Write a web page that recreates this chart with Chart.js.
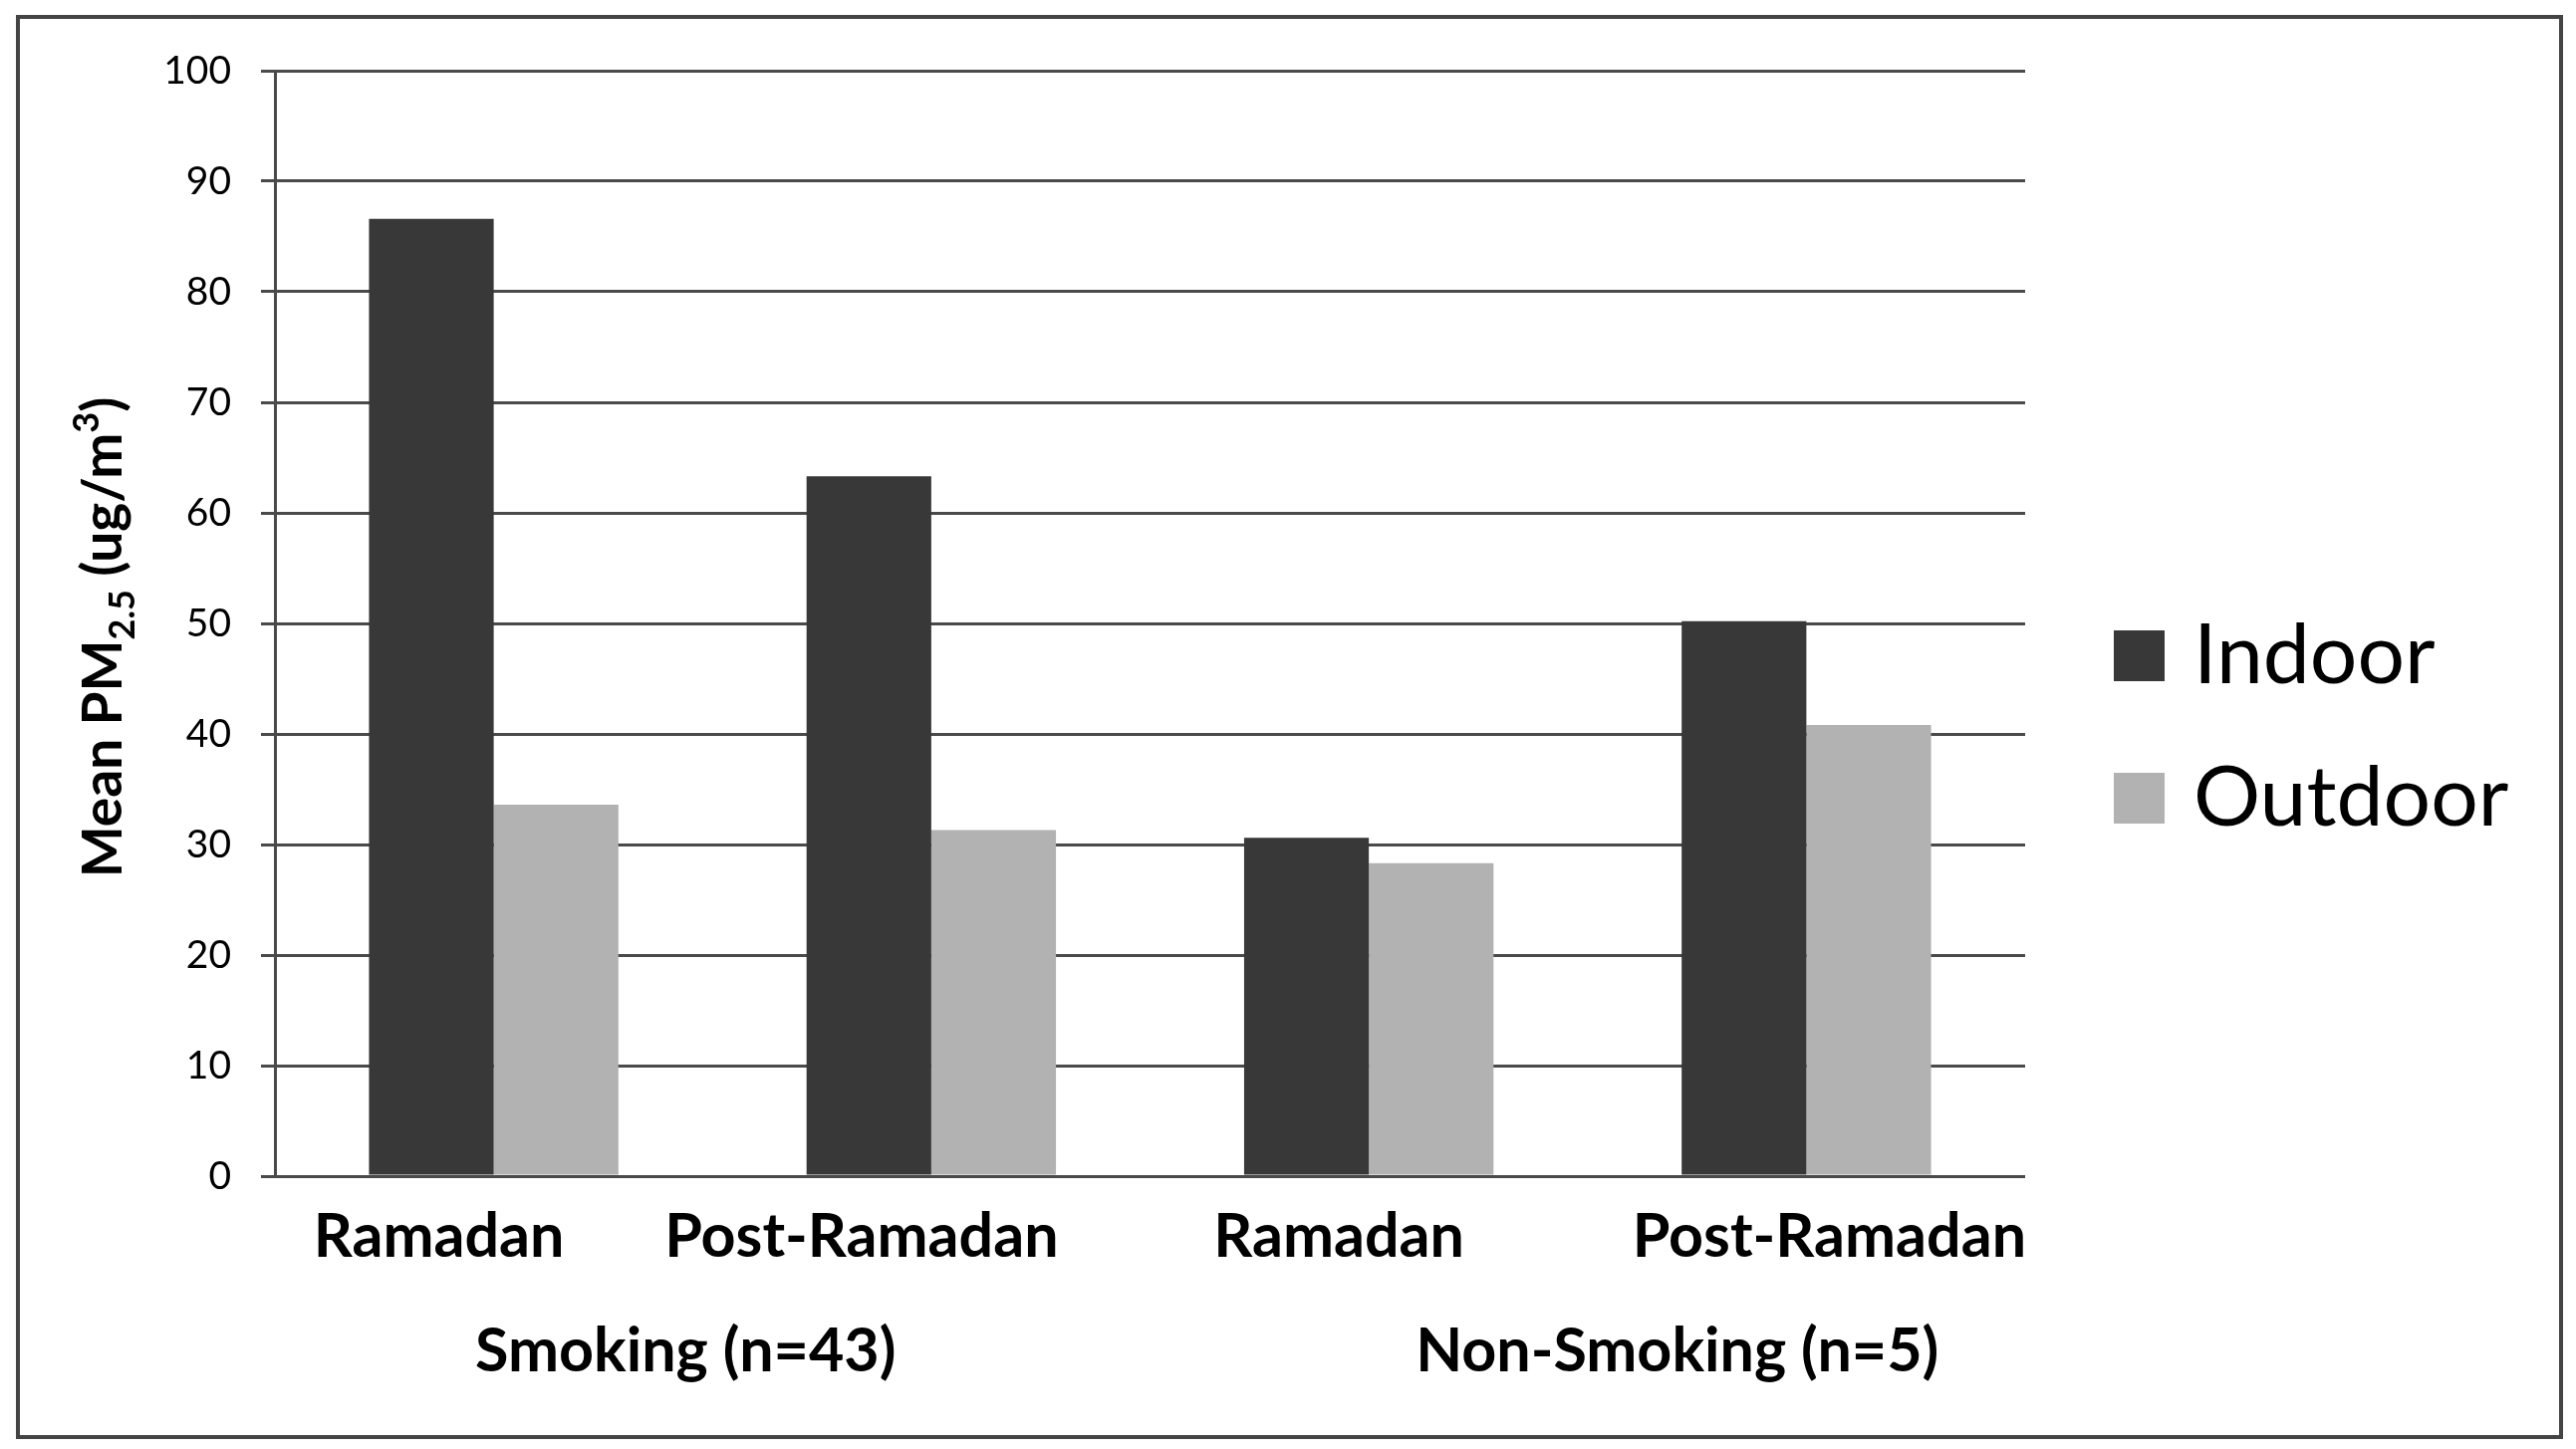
<!DOCTYPE html>
<html>
<head>
<meta charset="utf-8">
<script src="https://cdn.jsdelivr.net/npm/chart.js@4.4.1/dist/chart.umd.min.js"></script>
<style>
  html, body { margin: 0; padding: 0; background: #ffffff; }
  canvas { display: block; }
</style>
</head>
<body>
<canvas id="c" width="2586" height="1455"></canvas>
<script>
// ---- Data ----
const categories = ['Ramadan', 'Post-Ramadan', 'Ramadan', 'Post-Ramadan'];
const groupLabels = ['Smoking (n=43)', 'Non-Smoking (n=5)'];
const seriesNames = ['Indoor', 'Outdoor'];
const indoorValues = [86.6, 63.3, 30.6, 50.2];
const outdoorValues = [33.6, 31.3, 28.3, 40.8];
const yMin = 0, yMax = 100, yStep = 10;

const FONT = 'Lato, "Open Sans", "Liberation Sans", sans-serif';

// Draws frame, y title with sub/superscript, two-level x labels and legend
const decorPlugin = {
  id: 'decor',
  afterDraw(chart, args, opts) {
    const ctx = chart.ctx;
    const x = chart.scales.x;
    ctx.save();

    // outer frame
    ctx.strokeStyle = '#444444';
    ctx.lineWidth = 4;
    ctx.strokeRect(opts.frame.left, opts.frame.top, opts.frame.right - opts.frame.left, opts.frame.bottom - opts.frame.top);

    // category labels
    ctx.fillStyle = '#000000';
    ctx.textAlign = 'center';
    ctx.textBaseline = 'alphabetic';
    ctx.font = 'bold 61px ' + FONT;
    categories.forEach((c, i) => {
      ctx.fillText(c, x.getPixelForValue(i) + opts.catShift[i], opts.catBaseline);
    });
    // group labels (centred between their two categories)
    groupLabels.forEach((g, j) => {
      const cx = (x.getPixelForValue(2 * j) + x.getPixelForValue(2 * j + 1)) / 2;
      ctx.fillText(g, cx + opts.groupShift[j], opts.groupBaseline);
    });

    // y-axis title with subscript and superscript
    const parts = [
      { t: 'Mean PM', f: 'bold 55px ' + FONT, dy: 0 },
      { t: '2.5', f: 'bold 36px ' + FONT, dy: 13 },
      { t: ' (ug/m', f: 'bold 55px ' + FONT, dy: 0 },
      { t: '3', f: 'bold 36px ' + FONT, dy: -23 },
      { t: ')', f: 'bold 55px ' + FONT, dy: 0 }
    ];
    let total = 0;
    parts.forEach(p => { ctx.font = p.f; p.w = ctx.measureText(p.t).width; total += p.w; });
    const yArea = chart.chartArea;
    ctx.translate(opts.titleX, (yArea.top + yArea.bottom) / 2 + opts.titleShift);
    ctx.rotate(-Math.PI / 2);
    ctx.textAlign = 'left';
    let px = -total / 2;
    parts.forEach(p => { ctx.font = p.f; ctx.fillText(p.t, px, p.dy); px += p.w; });
    ctx.restore();

    // legend
    ctx.save();
    ctx.font = '84px ' + FONT;
    ctx.textBaseline = 'alphabetic';
    ctx.textAlign = 'left';
    chart.data.datasets.forEach((ds, i) => {
      const top = opts.legend.top + i * opts.legend.step;
      ctx.fillStyle = ds.backgroundColor;
      ctx.fillRect(opts.legend.x, top, opts.legend.box, opts.legend.box);
      ctx.fillStyle = '#000000';
      ctx.fillText(ds.label, opts.legend.textX, top + opts.legend.box + 2);
    });
    ctx.restore();
  }
};

new Chart(document.getElementById('c'), {
  type: 'bar',
  data: {
    labels: categories,
    datasets: [
      { label: seriesNames[0], data: indoorValues, backgroundColor: '#383838', borderWidth: 0 },
      { label: seriesNames[1], data: outdoorValues, backgroundColor: '#b2b2b2', borderWidth: 0 }
    ]
  },
  options: {
    responsive: false,
    devicePixelRatio: 1,
    animation: false,
    layout: { padding: { top: 71, right: 553, bottom: 274, left: 0 } },
    datasets: { bar: { categoryPercentage: 0.57, barPercentage: 1.0 } },
    plugins: {
      legend: { display: false },
      tooltip: { enabled: false },
      title: { display: false },
      decor: {
        frame: { left: 18, top: 17, right: 2571, bottom: 1443 },
        catShift: [-55, -70, -30, 23],
        catBaseline: 1262,
        groupShift: [-27, 90],
        groupBaseline: 1377,
        titleX: 122,
        titleShift: 14,
        legend: { x: 2122, top: 633, step: 143, box: 51, textX: 2202 }
      }
    },
    scales: {
      x: {
        ticks: { display: false },
        grid: { display: false, drawTicks: false },
        border: { display: false }
      },
      y: {
        min: yMin,
        max: yMax,
        ticks: {
          stepSize: yStep,
          color: '#000000',
          font: { family: FONT, size: 39 },
          padding: 30
        },
        grid: { color: '#4a4a4a', lineWidth: 3, tickLength: 14, drawTicks: true, tickColor: '#4a4a4a' },
        border: { display: true, color: '#4a4a4a', width: 3 },
        afterFit(scale) { scale.width = 276; }
      }
    }
  },
  plugins: [decorPlugin]
});
</script>
</body>
</html>
